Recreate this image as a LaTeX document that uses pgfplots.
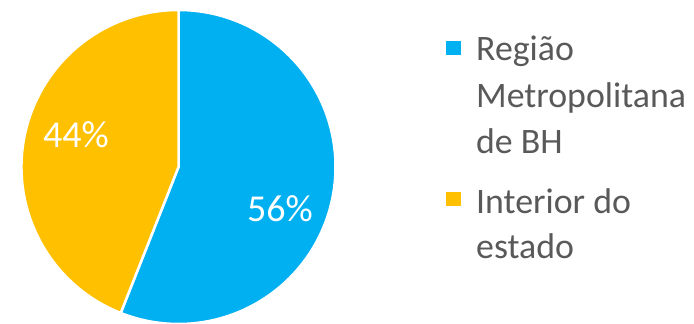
\documentclass[border=0pt]{standalone}
\usepackage{pgfplots}
\pgfplotsset{compat=1.18}
\usepackage{pgfplotstable}
\usepackage{fontspec}
\setmainfont{Carlito}
\definecolor{cblue}{HTML}{00B0F0}
\definecolor{cyel}{HTML}{FFC000}
\definecolor{ctext}{HTML}{595959}
\pgfplotstableread{
share
56
44
}\piedata
\begin{document}
\begin{tikzpicture}
\pgfplotstablegetelem{0}{share}\of\piedata \let\va\pgfplotsretval
\pgfplotstablegetelem{1}{share}\of\piedata \let\vb\pgfplotsretval
\pgfmathsetmacro{\aend}{90-3.6*\va}
\begin{axis}[hide axis, x=1bp, y=1bp, xmin=0, xmax=694, ymin=0, ymax=324,
  scale only axis, clip=false]
\fill[cblue, draw=white, line width=2.5bp] (axis cs:178.5,157) -- ++(90:157bp) arc[start angle=90, end angle=\aend, radius=157bp] -- cycle;
\fill[cyel, draw=white, line width=2.5bp] (axis cs:178.5,157) -- ++(\aend:157bp) arc[start angle=\aend, end angle=-270, radius=157bp] -- cycle;
\node[white, font=\fontsize{38bp}{42bp}\selectfont] at (axis cs:76,189) {\vb\%};
\node[white, font=\fontsize{38bp}{42bp}\selectfont] at (axis cs:280,115) {\va\%};
\fill[cblue] (axis cs:446,269) rectangle (axis cs:461,283);
\fill[cyel] (axis cs:446,118) rectangle (axis cs:461,132);
\begin{scope}[every node/.style={anchor=base west, text=ctext, inner sep=0pt, font=\fontsize{35.8bp}{42bp}\selectfont}]
\node at (axis cs:476,264) {Região};
\node at (axis cs:476,217) {Metropolitana};
\node at (axis cs:476,171) {de BH};
\node at (axis cs:476,111) {Interior do};
\node at (axis cs:476,66) {estado};
\end{scope}
\end{axis}
\pgfresetboundingbox
\path (0,0) rectangle (694bp,324bp);
\end{tikzpicture}
\end{document}
